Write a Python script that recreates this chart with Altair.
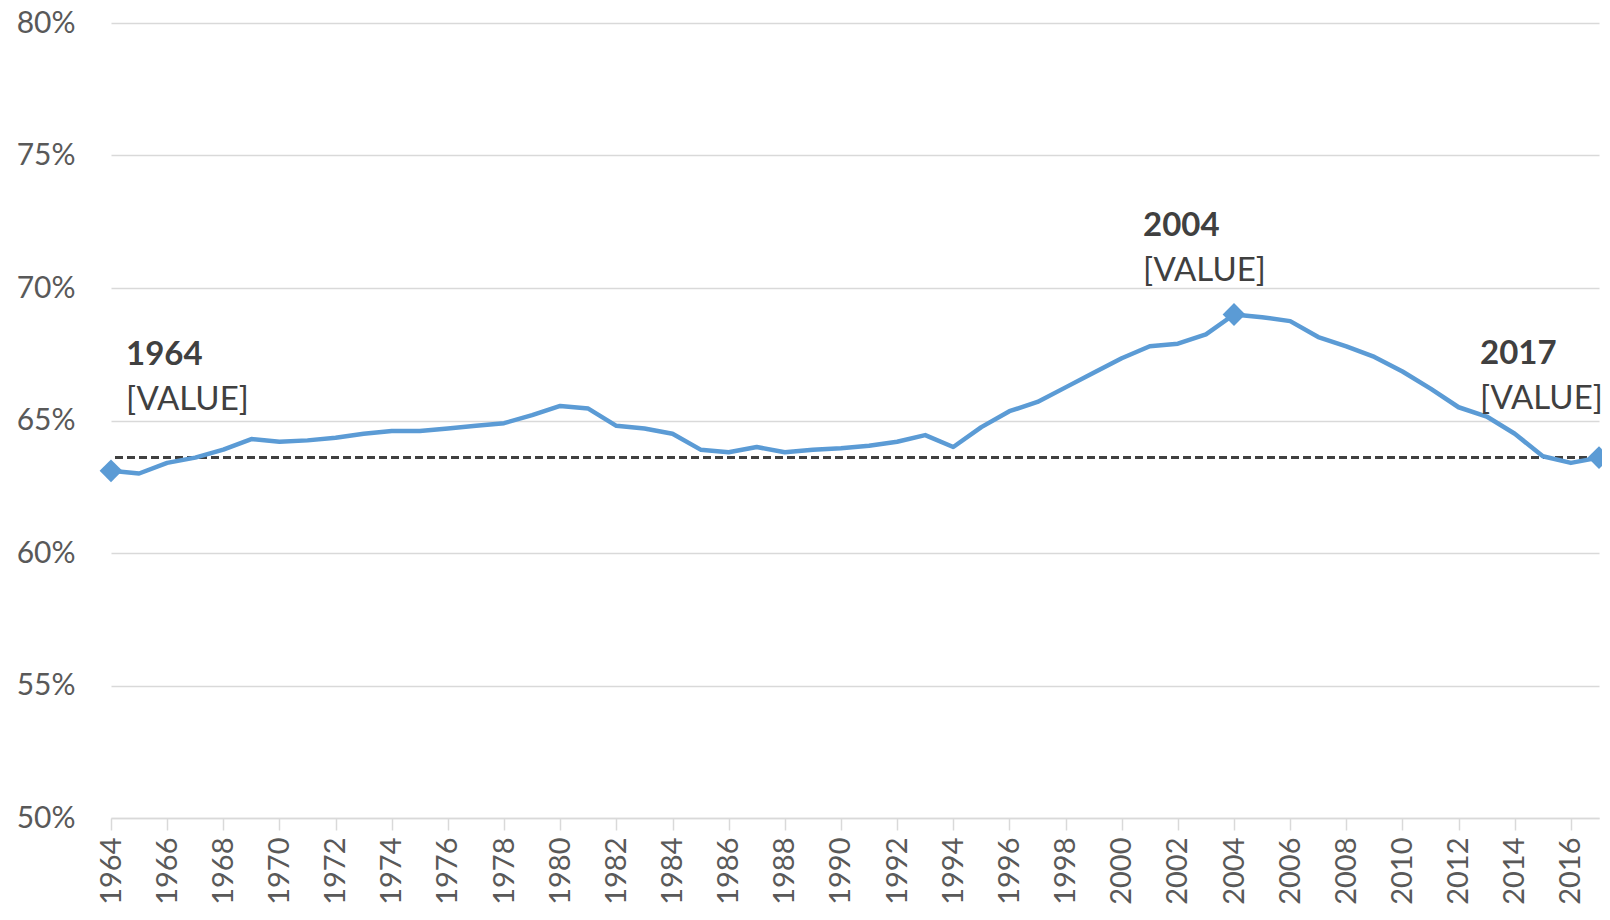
import altair as alt
import pandas as pd

years = list(range(1964, 2018))
rate = [63.1, 63.0, 63.4, 63.6, 63.9, 64.3, 64.2, 64.25, 64.35, 64.5,
        64.6, 64.6, 64.7, 64.8, 64.9, 65.2, 65.55, 65.45, 64.8, 64.7,
        64.5, 63.9, 63.8, 64.0, 63.8, 63.9, 63.95, 64.05, 64.2, 64.45,
        64.0, 64.75, 65.35, 65.7, 66.25, 66.8, 67.35, 67.8, 67.9, 68.25,
        69.0, 68.9, 68.75, 68.15, 67.8, 67.4, 66.85, 66.2, 65.5, 65.15,
        64.5, 63.65, 63.4, 63.6]
highlight_years = [1964, 2004, 2017]
reference_level = 63.6
y_ticks = [50, 55, 60, 65, 70, 75, 80]

df = pd.DataFrame({"year": years, "rate": rate})
hl = df[df["year"].isin(highlight_years)].copy()
hl["year_label"] = hl["year"].astype(str)
hl["value_label"] = "[VALUE]"
ref = pd.DataFrame({"level": [reference_level]})

FONT = "Lato"
LINE_COLOR = "#5B9BD5"
TEXT = "#595959"

x_enc = alt.X("year:Q",
              scale=alt.Scale(domain=[1964, 2017], nice=False, zero=False),
              axis=alt.Axis(values=years, labelExpr="datum.value % 2 == 0 ? datum.label : ''",
                            format="d", labelAngle=-90, labelFontSize=29, labelFont=FONT,
                            labelColor=TEXT, tickSize=12, tickColor="#d9d9d9", tickWidth=1.5,
                            domainColor="#d9d9d9", domainWidth=1.5, labelPadding=7,
                            grid=False, title=None, labelOverlap=False))
y_enc = alt.Y("rate:Q",
              scale=alt.Scale(domain=[50, 80], nice=False, zero=False),
              axis=alt.Axis(values=y_ticks, labelExpr="datum.value + '%'",
                            labelFontSize=30, labelFont=FONT, labelColor=TEXT,
                            ticks=False, domain=False, grid=True, gridColor="#d9d9d9",
                            gridWidth=1.5, labelPadding=36, title=None))

base = alt.Chart(df)
line = base.mark_line(color=LINE_COLOR, strokeWidth=4.5, strokeCap="round",
                      strokeJoin="round").encode(x=x_enc, y=y_enc)

rule = alt.Chart(ref).mark_rule(color="#404040", strokeWidth=3,
                                strokeDash=[8, 4]).encode(y=alt.Y("level:Q"))

points = alt.Chart(hl).mark_point(shape="diamond", filled=True, size=520,
                                  color=LINE_COLOR, opacity=1).encode(
    x="year:Q", y="rate:Q")

offsets = {1964: (15, -106, -61), 2004: (-91, -78.5, -33.5), 2017: (-119, -93.5, -48.3)}
texts = []
for yr, (dx, dy1, dy2) in offsets.items():
    sub = hl[hl["year"] == yr]
    texts.append(alt.Chart(sub).mark_text(align="left", baseline="alphabetic", dx=dx, dy=dy1,
                                          font=FONT, fontSize=33, fontWeight="bold",
                                          color="#404040").encode(
        x="year:Q", y="rate:Q", text="year_label:N"))
    texts.append(alt.Chart(sub).mark_text(align="left", baseline="alphabetic", dx=dx, dy=dy2,
                                          font=FONT, fontSize=33, color="#404040").encode(
        x="year:Q", y="rate:Q", text="value_label:N"))

chart = alt.layer(rule, line, points, *texts).properties(
    width=1488, height=795,
    autosize=alt.AutoSizeParams(type="none"),
    padding={"left": 103, "top": 15, "right": 3, "bottom": 88},
    background="white",
).configure_view(stroke=None)

chart.save("out.html", embed_options={"renderer": "svg", "actions": False})
